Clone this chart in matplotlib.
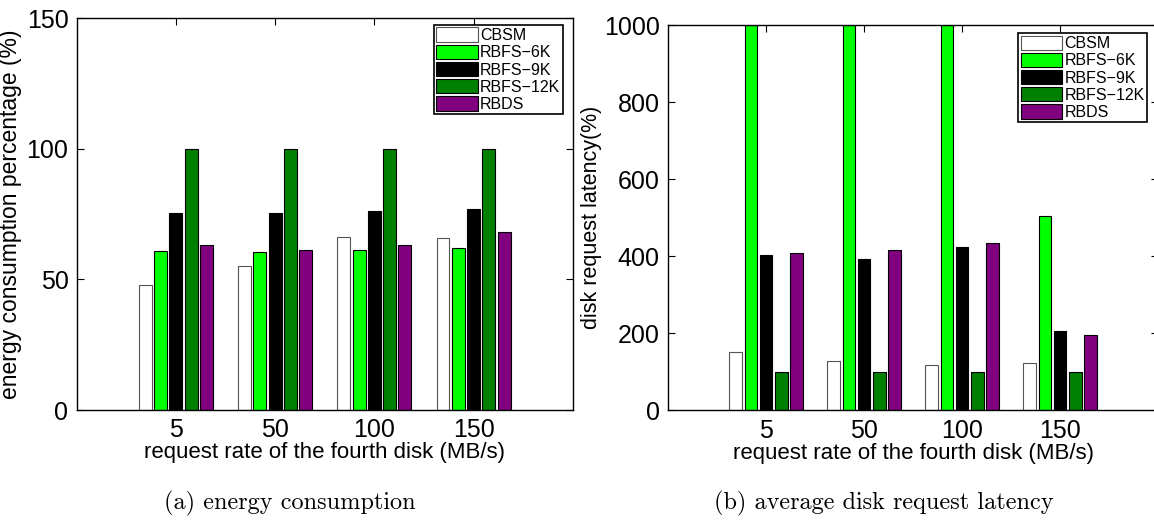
import numpy as np
import matplotlib
matplotlib.use("Agg")
import matplotlib.pyplot as plt

plt.rcParams['font.family'] = ['Liberation Sans', 'DejaVu Sans']

rates = ["5", "50", "100", "150"]
schemes = ["CBSM", "RBFS\u22126K", "RBFS\u22129K", "RBFS\u221212K", "RBDS"]
colors = ["white", "#00ff00", "black", "#008000", "#800080"]

energy = {
    "CBSM":         [47.9, 55.3, 66.2, 66.0],
    "RBFS\u22126K":  [60.7, 60.5, 61.2, 61.9],
    "RBFS\u22129K":  [75.5, 75.4, 76.0, 77.0],
    "RBFS\u221212K": [100, 100, 100, 100],
    "RBDS":         [63.0, 61.4, 63.3, 68.3],
}
latency = {
    "CBSM":         [153, 128, 117, 124],
    "RBFS\u22126K":  [1000, 1000, 1000, 505],
    "RBFS\u22129K":  [403, 394, 425, 207],
    "RBFS\u221212K": [100, 100, 100, 100],
    "RBDS":         [409, 416, 434, 195],
}

fig = plt.figure(figsize=(11.54, 5.20), dpi=100)
ax1 = fig.add_axes([0.0665, 0.2115, 0.4298, 0.7538])
ax2 = fig.add_axes([0.5789, 0.2106, 0.4246, 0.7413])


def draw(ax, data, ylim, yticks, ylabel, ylab_size, ylab_x, leg_anchor):
    x = np.arange(1, len(rates) + 1)
    pitch, width = 0.154, 0.13
    for i, s in enumerate(schemes):
        edge = "#555555" if s == "CBSM" else "black"
        ax.bar(x + (i - 2) * pitch, data[s], width, color=colors[i],
               edgecolor=edge, linewidth=0.8, label=s)
    ax.set_xlim(0, 5)
    ax.set_ylim(*ylim)
    ax.set_xticks(x)
    ax.set_xticklabels(rates)
    ax.set_yticks(yticks)
    ax.tick_params(direction="in", length=5, labelsize=18, top=True, right=True,
                   pad=6)
    ax.set_xlabel("request rate of the fourth disk (MB/s)", fontsize=16, labelpad=0)
    ax.set_ylabel(ylabel, fontsize=ylab_size)
    ax.yaxis.set_label_coords(ylab_x, 0.5)
    for sp in ax.spines.values():
        sp.set_linewidth(1.0)
    leg = ax.legend(loc="upper right", bbox_to_anchor=leg_anchor, fontsize=11.5,
                    fancybox=False, framealpha=1, edgecolor="black",
                    borderpad=0.15, labelspacing=0.1, handlelength=2.6,
                    handleheight=1.0, handletextpad=0.15, borderaxespad=0)
    leg.get_frame().set_linewidth(1.2)


draw(ax1, energy, (0, 150), [0, 50, 100, 150],
     "energy consumption percentage (%)", 16.5, -0.110, (0.980, 0.982))
draw(ax2, latency, (0, 1000), [0, 200, 400, 600, 800, 1000],
     "disk request latency(%)", 15.5, -0.135, (0.978, 0.979))

fig.text(0.251, 0.02, "(a) energy consumption", family="cmr10", fontsize=17.5,
         ha="center", va="baseline")
fig.text(0.766, 0.02, "(b) average disk request latency", family="cmr10",
         fontsize=17.5, ha="center", va="baseline")

fig.savefig("out.png", dpi=100)
